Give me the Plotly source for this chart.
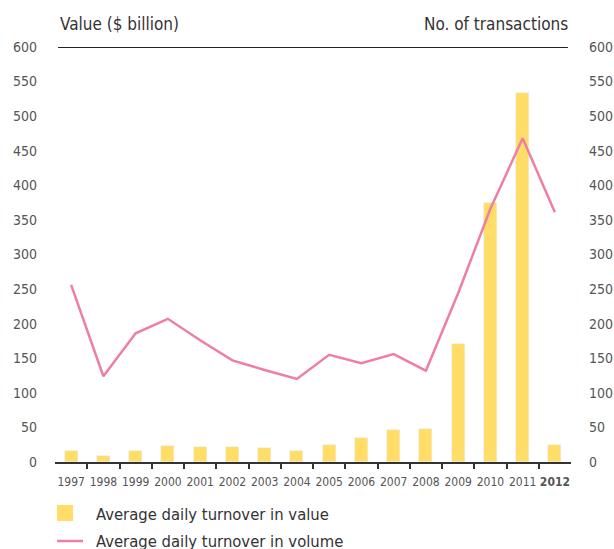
import plotly.graph_objects as go

years = ["1997", "1998", "1999", "2000", "2001", "2002", "2003", "2004",
         "2005", "2006", "2007", "2008", "2009", "2010", "2011", "2012"]
value_bn = [16, 9, 16, 23, 22, 22, 20, 16, 25, 35, 46, 48, 171, 374, 533, 25]
transactions = [256, 124, 186, 207, 176, 147, 133, 120, 155, 143, 156, 132, 244, 366, 468, 361]
y_ticks = [0, 50, 100, 150, 200, 250, 300, 350, 400, 450, 500, 550, 600]

tick_text = [f"<b>{y}</b>" if y == "2012" else y for y in years]
# separators between neighbouring years (category boundaries, ends excluded)
separators = [i + 0.5 for i in range(len(years) - 1)]

BAR = "#FFDD66"
LINE = "#EF7FA0"
GREY = "#555555"
FONT = "DejaVu Sans Condensed, Roboto, sans-serif"

fig = go.Figure()
fig.add_trace(go.Bar(x=years, y=value_bn, marker_color=BAR, width=0.4,
                     name="Average daily turnover in value", showlegend=False))
fig.add_trace(go.Scatter(x=years, y=transactions, mode="lines", yaxis="y2",
                         line=dict(color=LINE, width=2.5),
                         name="Average daily turnover in volume", showlegend=False))
# carrier for the separator tick axis
fig.add_trace(go.Scatter(x=separators, y=[0] * len(separators), xaxis="x2",
                         mode="markers", marker=dict(opacity=0, size=1),
                         hoverinfo="skip", showlegend=False))

axis_common = dict(range=[0, 600], tickvals=y_ticks, showgrid=False, zeroline=False,
                   tickfont=dict(family=FONT, size=14, color=GREY),
                   ticks="", ticklabelstandoff=17, automargin=False)

fig.update_layout(
    width=614, height=549,
    margin=dict(l=55, r=43, t=47, b=87),
    paper_bgcolor="white", plot_bgcolor="white",
    bargap=0,
    xaxis=dict(type="category", categoryorder="array", categoryarray=years,
               tickvals=years, ticktext=tick_text, tickangle=0, automargin=False,
               tickfont=dict(family=FONT, size=12, color=GREY),
               ticklabelstandoff=8,
               showline=True, linecolor="#333333", linewidth=2,
               ticks="", showgrid=False, range=[-0.5, 15.5]),
    xaxis2=dict(overlaying="x", anchor="y", side="bottom", type="linear",
                range=[-0.5, 15.5], tickvals=separators, showticklabels=False,
                ticks="outside", ticklen=6, tickwidth=2, tickcolor="#333333",
                showline=False, showgrid=False, zeroline=False, automargin=False),
    yaxis=dict(**axis_common),
    yaxis2=dict(overlaying="y", side="right", **axis_common),
    shapes=[
        dict(type="line", xref="paper", yref="y", x0=0.006, x1=0.994, y0=600, y1=600,
             line=dict(color="#222222", width=2)),
        # legend keys
        dict(type="rect", xref="paper", yref="paper",
             x0=(57 - 55) / 516, x1=(73 - 55) / 516,
             y0=-(505 - 462) / 415, y1=-(521 - 462) / 415,
             fillcolor=BAR, line=dict(width=0)),
        dict(type="line", xref="paper", yref="paper",
             x0=(57 - 55) / 516, x1=(83 - 55) / 516,
             y0=-(541 - 462) / 415, y1=-(541 - 462) / 415,
             line=dict(color=LINE, width=2.5)),
    ],
    annotations=[
        dict(text="Value ($ billion)", xref="paper", yref="paper",
             x=(58 - 55) / 516, y=(462 - 24) / 415, xanchor="left", yanchor="middle",
             showarrow=False, font=dict(family=FONT, size=17, color="#333333")),
        dict(text="No. of transactions", xref="paper", yref="paper",
             x=(570 - 55) / 516, y=(462 - 24) / 415, xanchor="right", yanchor="middle",
             showarrow=False, font=dict(family=FONT, size=17, color="#333333")),
        dict(text="Average daily turnover in value", xref="paper", yref="paper",
             x=(94 - 55) / 516, y=-(514 - 462) / 415, xanchor="left", yanchor="middle",
             showarrow=False, font=dict(family=FONT, size=16.5, color="#333333")),
        dict(text="Average daily turnover in volume", xref="paper", yref="paper",
             x=(94 - 55) / 516, y=-(541 - 462) / 415, xanchor="left", yanchor="middle",
             showarrow=False, font=dict(family=FONT, size=16.5, color="#333333")),
    ],
)

fig.write_html("out.html")
